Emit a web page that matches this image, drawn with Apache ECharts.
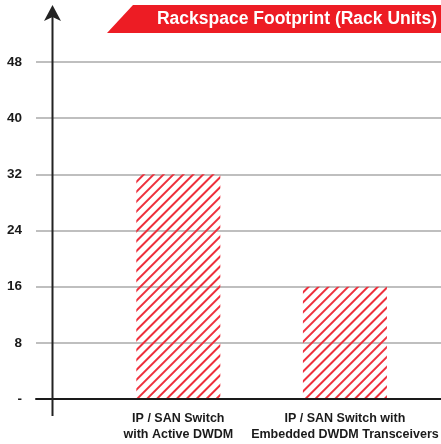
<!DOCTYPE html>
<html>
<head>
<meta charset="utf-8">
<script src="https://cdn.jsdelivr.net/npm/echarts@6/dist/echarts.min.js"></script>
<style>
  html, body { margin: 0; padding: 0; background: #fff; }
  #chart { width: 441px; height: 444px; }
</style>
</head>
<body>
<div id="chart"></div>
<script>
// 数据
const categories = ['IP / SAN Switch\nwith Active DWDM', 'IP / SAN Switch with\nEmbedded DWDM Transceivers']
const rackUnits = [32, 16]
const yTicks = [0, 8, 16, 24, 32, 40, 48]

const FONT = 'Liberation Sans'
const RED = '#ed1c24'

const chart = echarts.init(document.getElementById('chart'))
const option = {
  animation: false,
  title: {
    text: 'Rackspace Footprint (Rack Units)',
    right: 4,
    top: 10,
    padding: 0,
    textStyle: { color: '#fff', fontSize: 17.5, fontWeight: 'bold', fontFamily: FONT }
  },
  graphic: [
    {
      type: 'polygon', z: 0,
      shape: { points: [[133, 5], [441, 5], [441, 33], [107, 33]] },
      style: { fill: RED }
    },
    {
      type: 'line', z: 10,
      shape: { x1: 52.5, y1: 416, x2: 52.5, y2: 16 },
      style: { stroke: '#222', lineWidth: 2 }
    },
    {
      type: 'polygon', z: 10,
      shape: { points: [[52.5, 5], [44, 21], [52.5, 17], [61, 21]] },
      style: { fill: '#222' }
    }
  ],
  grid: [
    { left: 36, right: 0, top: 62, bottom: 45 },
    { left: 95, right: 10, top: 62, bottom: 45 }
  ],
  xAxis: [
    {
      gridIndex: 0,
      type: 'category',
      data: categories,
      axisLine: { lineStyle: { color: '#1a1a1a', width: 2 } },
      axisTick: { show: false },
      axisLabel: { show: false },
      z: 5
    },
    {
      gridIndex: 1,
      type: 'category',
      data: categories,
      axisLine: { show: false },
      axisTick: { show: false },
      axisLabel: {
        interval: 0,
        margin: 12,
        color: '#1a1a1a',
        fontSize: 12.5,
        fontWeight: 'bold',
        fontFamily: FONT,
        lineHeight: 16
      }
    }
  ],
  yAxis: [
    {
      gridIndex: 0,
      type: 'value',
      min: yTicks[0],
      max: yTicks[yTicks.length - 1],
      interval: 8,
      axisLine: { show: false },
      axisTick: { show: false },
      axisLabel: {
        margin: 14,
        color: '#1a1a1a',
        fontSize: 13.5,
        fontWeight: 'bold',
        fontFamily: FONT,
        formatter: v => (v === 0 ? '-' : String(v))
      },
      splitLine: { lineStyle: { color: '#aaaaaa', width: 1.5 } }
    },
    {
      gridIndex: 1,
      type: 'value',
      min: yTicks[0],
      max: yTicks[yTicks.length - 1],
      interval: 8,
      show: false
    }
  ],
  series: [
    {
      type: 'bar',
      xAxisIndex: 1,
      yAxisIndex: 1,
      data: rackUnits,
      barWidth: 84,
      itemStyle: {
        color: 'rgba(255,255,255,0)',
        decal: {
          symbol: 'rect',
          symbolSize: 1,
          dashArrayX: [1, 0],
          dashArrayY: [1.4, 4.6],
          rotation: -Math.PI / 4,
          color: '#ee2f3c',
          backgroundColor: 'rgba(255,255,255,0)'
        }
      }
    }
  ]
}
chart.setOption(option)
</script>
</body>
</html>
